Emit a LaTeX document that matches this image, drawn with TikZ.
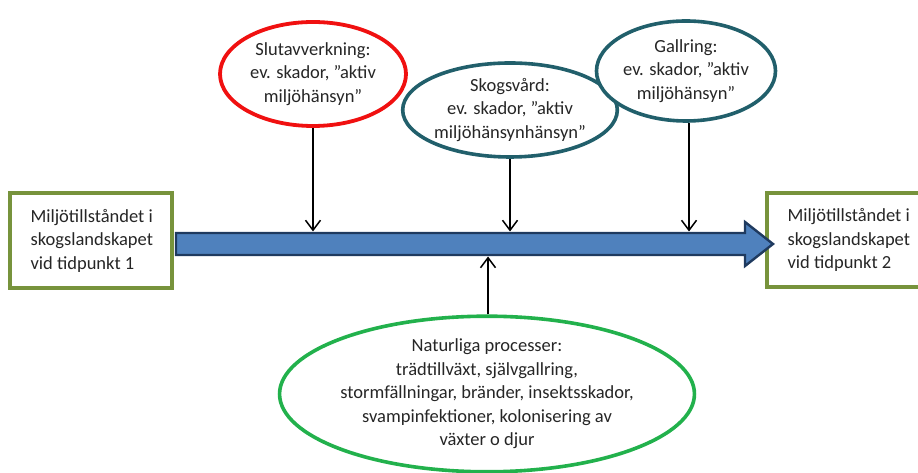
\documentclass[tikz,border=0pt]{standalone}
\usepackage{fontspec}
\setmainfont{Carlito}
\usetikzlibrary{shapes.geometric,arrows.meta}
\definecolor{boxgreen}{HTML}{77933C}
\definecolor{arrowfill}{HTML}{4F81BD}
\definecolor{arrowline}{HTML}{1F3A5F}
\definecolor{ellred}{HTML}{F01010}
\definecolor{ellteal}{HTML}{215F6B}
\definecolor{ellgreen}{HTML}{22B14C}
\tikzset{
  x=1pt,y=1pt,
  every node/.style={font=\fontsize{18.5}{23.5}\selectfont, text=black!85},
  statebox/.style={draw=boxgreen, line width=3.2pt, fill=white, inner sep=0pt},
  ell/.style={ellipse, draw, fill=white, align=center, inner sep=0pt},
  conn/.style={draw=black, line width=1.5pt, -{Straight Barb[length=10pt,width=15pt,line width=1.5pt]}},
}
\begin{document}
\begin{tikzpicture}
\useasboundingbox (0,0) rectangle (918,473);
% state boxes
\draw[statebox] (10,185) rectangle (172,280);
\node[anchor=west, align=left] (left) at (27,232.5) {Miljötillståndet i\\skogslandskapet\\vid tidpunkt 1};
\draw[statebox] (767,186) rectangle (932,280);
\node[anchor=west, align=left] (right) at (784,233) {Miljötillståndet i\\skogslandskapet\\vid tidpunkt 2};
% big arrow
\draw[fill=arrowfill, draw=arrowline, line width=2.4pt, line join=miter]
  (176,240) -- (745,240) -- (745,251) -- (773,229) -- (745,207) -- (745,218) -- (176,218) -- cycle;
\coordinate (shafttop) at (0,241.5);
\coordinate (shaftbot) at (0,216.5);
% ellipses
\node[ell, draw=ellred, line width=3.8pt, minimum width=186pt, minimum height=104pt] (slut) at (313,399)
  {Slutavverkning:\\ev. skador, ”aktiv\\miljöhänsyn”};
\node[ell, draw=ellteal, line width=3.6pt, minimum width=200pt, minimum height=94pt] (skog) at (510,363)
  {Skogsvård:\\ev. skador, ”aktiv\\miljöhänsynhänsyn”};
\node[ell, draw=ellteal, line width=3.6pt, minimum width=179pt, minimum height=100pt] (gall) at (686,402)
  {Gallring:\\ev. skador, ”aktiv\\miljöhänsyn”};
\node[ell, draw=ellgreen, line width=3.6pt, minimum width=296pt, minimum height=148pt] (natur) at (487,79)
  {Naturliga processer:\\trädtillväxt, självgallring,\\stormfällningar, bränder, insektsskador,\\svampinfektioner, kolonisering av\\växter o djur};
% connectors
\draw[conn] (slut.south) -- (slut.south |- shafttop);
\draw[conn] (skog.south) -- (skog.south |- shafttop);
\draw[conn] ([xshift=3pt]gall.south) -- ([xshift=3pt]gall.south |- shafttop);
\draw[conn] ([xshift=1pt]natur.north) -- ([xshift=1pt]natur.north |- shaftbot);
\end{tikzpicture}
\end{document}
